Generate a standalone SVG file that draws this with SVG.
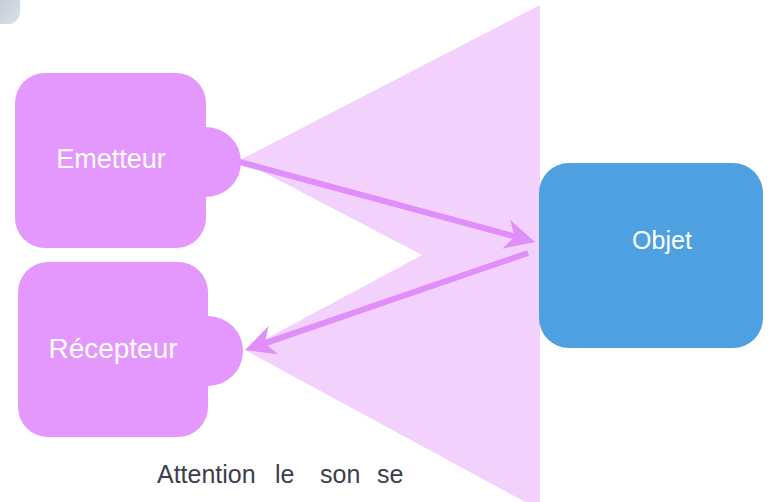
<svg xmlns="http://www.w3.org/2000/svg" width="769" height="502" viewBox="0 0 769 502">
<style>
.pink{fill:#e497fc}
.lbl{font-family:"Liberation Sans","DejaVu Sans",sans-serif;fill:#ffffff;text-anchor:middle}
.body{font-family:"Liberation Sans","DejaVu Sans",sans-serif;fill:#3d3d4d;font-size:25px}
.conn{stroke:#e08ffa;stroke-width:6;fill:none;marker-end:url(#ah)}
</style>
<defs>
<marker id="ah" markerUnits="userSpaceOnUse" viewBox="-32 -17 34 34" markerWidth="34" markerHeight="34" refX="-10" refY="0" orient="auto">
<path d="M0,0 L-30,-15 L-21,0 L-30,15 Z" fill="#e08ffa"/>
</marker>
<linearGradient id="gb" x1="0" y1="0" x2="1" y2="1">
<stop offset="0" stop-color="#aebbc6"/>
<stop offset="1" stop-color="#dbe2e8"/>
</linearGradient>
</defs>
<rect width="769" height="502" fill="#ffffff"/>
<rect x="-20" y="-20" width="40" height="44" rx="12" fill="url(#gb)"/>
<g id="cone">
<polygon points="240,160 540,5 540,510 245,350 422,255" fill="#f2d2fc"/>
</g>
<g id="emetteur">
<rect class="pink" x="15" y="73" width="191" height="175" rx="30"/>
<circle class="pink" cx="206" cy="162" r="35"/>
<text class="lbl" x="111" y="168" font-size="27">Emetteur</text>
</g>
<g id="recepteur">
<rect class="pink" x="18" y="262" width="190" height="175" rx="30"/>
<circle class="pink" cx="208" cy="351" r="35"/>
<text class="lbl" x="113" y="358" font-size="28">Récepteur</text>
</g>
<g id="objet">
<rect x="539" y="163" width="224" height="185" rx="30" fill="#4fa0e0"/>
<text class="lbl" x="662" y="249" font-size="25">Objet</text>
</g>
<g id="connectors">
<line class="conn" x1="240" y1="162" x2="525.4" y2="239.4"/>
<line class="conn" x1="528" y1="253" x2="254.5" y2="346.8"/>
</g>
<g id="note">
<text class="body" x="157" y="483">Attention</text>
<text class="body" x="275" y="483">le</text>
<text class="body" x="320" y="483">son</text>
<text class="body" x="377" y="483">se</text>
</g>
</svg>
